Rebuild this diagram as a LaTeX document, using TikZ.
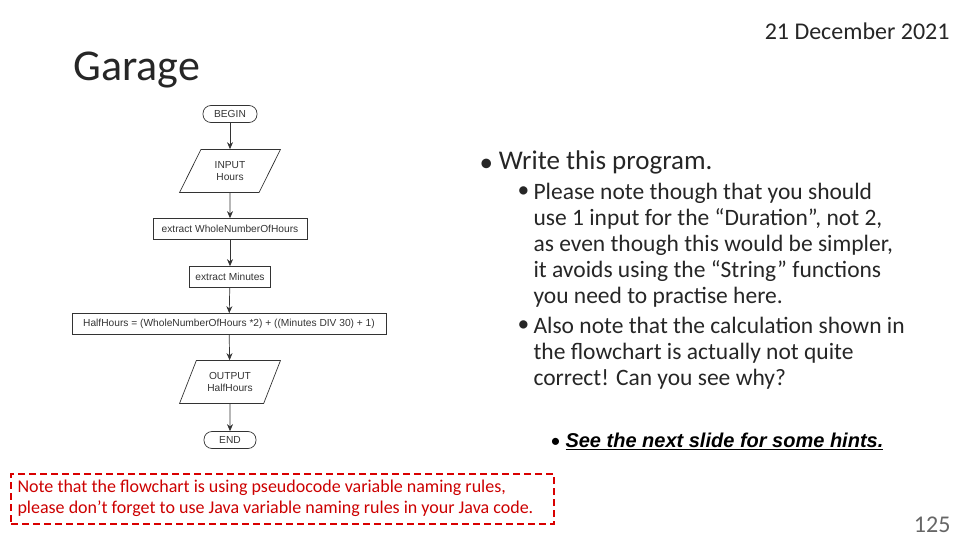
\documentclass[tikz,border=0pt]{standalone}
\usepackage{fontspec}
\setmainfont{Carlito}
\newfontfamily\arialf{Liberation Sans}
\usetikzlibrary{shapes.geometric,arrows.meta}
\begin{document}
\begin{tikzpicture}[x=1pt,y=-1pt,
  fc/.style={draw=black!80,line width=0.7pt,font=\arialf\fontsize{10.2}{12}\selectfont,text=black!80,inner sep=2pt},
  term/.style={fc,rounded corners=8pt,minimum width=54pt,minimum height=17pt},
  io/.style={fc,trapezium,trapezium left angle=64,trapezium right angle=116,trapezium stretches=true,minimum width=101pt,minimum height=43pt,align=center,inner xsep=0pt},
  proc/.style={fc,rectangle,minimum height=21pt},
  arr/.style={-{Stealth[length=7pt,width=6pt]},line width=0.7pt,black!80},
  body/.style={font=\fontsize{23.5}{26}\selectfont,text=black!85,anchor=north west,align=left}]
\useasboundingbox (0,0) rectangle (960,540);
\node[anchor=west,font=\fontsize{44}{46}\selectfont,text=black!85] (title) at (70,70) {Garage};
\node[anchor=east,font=\fontsize{24}{26}\selectfont,text=black!85] (date) at (953,31) {21 December 2021};
\node[term] (begin) at (230,114) {BEGIN};
\node[io] (in) at (230,171) {INPUT\\Hours};
\node[proc,minimum width=154pt] (w) at (230,229) {extract WholeNumberOfHours};
\node[proc,minimum width=81pt] (m) at (230,277) {extract Minutes};
\node[proc,minimum width=314pt] (h) at (229,324) {HalfHours = (WholeNumberOfHours *2) + ((Minutes DIV 30) + 1)};
\node[io] (out) at (230,382) {OUTPUT\\HalfHours};
\node[term,minimum width=52pt] (end) at (230,440) {END};
\draw[arr] (begin) -- (in);
\draw[arr] (in) -- (w);
\draw[arr] (w) -- (m);
\draw[arr] (m) -- (h);
\draw[arr] (h) -- (out);
\draw[arr] (out) -- (end);
\node[anchor=west,font=\fontsize{27}{28}\selectfont,text=black!85] (b1) at (476,162) {\raisebox{-2pt}{•}\hspace{6pt}Write this program.};
\node[anchor=north west,font=\fontsize{23.5}{26}\selectfont,text=black!85] (d1) at (514,183) {•};
\node[body] (t1) at (530,180) {Please note though that you should\\use 1 input for the “Duration”, not 2,\\as even though this would be simpler,\\it avoids using the “String” functions\\you need to practise here.};
\node[anchor=north west,font=\fontsize{23.5}{26}\selectfont,text=black!85] (d2) at (514,317) {•};
\node[body] (t2) at (530,314) {Also note that the calculation shown in\\the flowchart is actually not quite\\correct! Can you see why?};
\node[anchor=west,font=\fontsize{20}{22}\selectfont] (b3) at (547,441) {•\hspace{5pt}\arialf\bfseries\itshape\underline{See the next slide for some hints.}};
\node[draw=red!85!black,line width=2.2pt,dash pattern=on 7pt off 4pt,minimum width=543pt,minimum height=50pt,anchor=north west] (note) at (10,473) {};
\node[anchor=north west,align=left,text=red!80!black,font=\fontsize{18}{21}\selectfont] (notet) at (14,476) {Note that the flowchart is using pseudocode variable naming rules,\\please don’t forget to use Java variable naming rules in your Java code.};
\node[anchor=east,font=\fontsize{24}{26}\selectfont,text=black!60] (pg) at (954,525) {125};
\end{tikzpicture}
\end{document}
